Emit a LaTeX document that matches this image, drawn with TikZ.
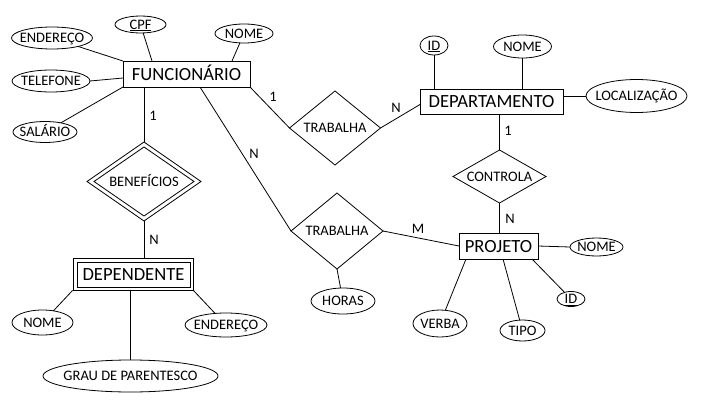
\documentclass[tikz,border=0pt]{standalone}
\usepackage{fontspec}
\setmainfont{Carlito}
\usetikzlibrary{shapes.geometric}
\begin{document}
\begin{tikzpicture}[x=1pt,y=-1pt,line width=0.8pt,
  small/.style={font=\fontsize{14.5}{16}\selectfont},
  big/.style={font=\fontsize{18.6}{20}\selectfont},
  attr/.style={ellipse,draw,inner sep=0pt,outer sep=0pt},
  ent/.style={rectangle,draw,inner sep=0pt,outer sep=0pt,big,text height=12pt,text depth=0pt},
  rel/.style={diamond,draw,inner sep=0pt,outer sep=0pt},
  txt/.style={small,inner sep=0pt,text height=9.3pt,text depth=0pt},
  card/.style={txt}]
\useasboundingbox (0,0) rectangle (701,412);
% entities
\node[ent,minimum width=127,minimum height=26] (func) at (186.5,74) {FUNCION\'ARIO};
\node[ent,minimum width=143,minimum height=25] (dep) at (491.5,101.5) {DEPARTAMENTO};
\node[ent,minimum width=79,minimum height=26] (proj) at (498.5,246) {PROJETO};
\node[rectangle,draw,minimum width=120,minimum height=32,inner sep=0pt] (dep2o) at (133,274) {};
\node[ent,minimum width=113,minimum height=25] (dep2) at (133.5,274.5) {DEPENDENTE};
% relationships
\node[rel,minimum width=91,minimum height=74,label={[txt]center:TRABALHA}] (trab1) at (335,128) {};
\node[rel,minimum width=92,minimum height=76,label={[txt]center:TRABALHA}] (trab2) at (337,231) {};
\node[rel,minimum width=93,minimum height=53,label={[txt]center:CONTROLA}] (contr) at (499.5,176.5) {};
\node[rel,minimum width=114,minimum height=79] (benefo) at (144,181.5) {};
\node[rel,minimum width=100,minimum height=69,label={[txt]center:BENEF\'ICIOS}] (benef) at (144,181.5) {};
% attributes
\node[attr,minimum width=81,minimum height=22,label={[txt]center:ENDERE\c{C}O}] (end1) at (52,38) {};
\node[attr,minimum width=51,minimum height=17,label={[txt]center:\underline{CPF}}] (cpf) at (140.5,24.5) {};
\node[attr,minimum width=58,minimum height=19,label={[txt]center:NOME}] (nome1) at (244,33.5) {};
\node[attr,minimum width=78,minimum height=22,label={[txt]center:TELEFONE}] (tel) at (51,81) {};
\node[attr,minimum width=64,minimum height=21,label={[txt]center:SAL\'ARIO}] (sal) at (45,132) {};
\node[attr,minimum width=28,minimum height=19,label={[txt]center:\underline{ID}}] (id1) at (434,45.5) {};
\node[attr,minimum width=58,minimum height=23,label={[txt]center:NOME}] (nome2) at (522.5,46.5) {};
\node[attr,minimum width=101,minimum height=33,label={[txt]center:LOCALIZA\c{C}\~AO}] (loc) at (636.5,96) {};
\node[attr,minimum width=64,minimum height=26,label={[txt]center:HORAS}] (horas) at (343,301) {};
\node[attr,minimum width=53,minimum height=18,label={[txt]center:NOME}] (nome3) at (596.5,247) {};
\node[attr,minimum width=28,minimum height=15,label={[txt]center:\underline{ID}}] (id2) at (571,299) {};
\node[attr,minimum width=45,minimum height=21,label={[txt]center:TIPO}] (tipo) at (522.5,330.5) {};
\node[attr,minimum width=54,minimum height=27,label={[txt]center:VERBA}] (verba) at (440,323.5) {};
\node[attr,minimum width=61,minimum height=25,label={[txt]center:NOME}] (nome4) at (42.5,322.5) {};
\node[attr,minimum width=82,minimum height=24,label={[txt]center:ENDERE\c{C}O}] (end2) at (226,325) {};
\node[attr,minimum width=175,minimum height=32,label={[txt]center:GRAU DE PARENTESCO}] (grau) at (130.5,376) {};
% connectors
\draw (end1) -- (func.north west);
\draw (cpf) -- ([xshift=29pt]func.north west);
\draw (nome1) -- ([xshift=109pt]func.north west);
\draw (tel.east) -- ([yshift=-17pt]func.north west);
\draw (sal) -- (func.south west);
\draw (benefo.north |- func.south) -- (benefo.north);
\draw ([xshift=77pt]func.south west) -- (trab2.west);
\draw (func.south east) -- (trab1.west);
\draw (trab1.east) -- ([yshift=-3pt]dep.west);
\draw (id1.south) -- (id1.south |- dep.north);
\draw (nome2.south) -- (nome2.south |- dep.north);
\draw (loc.west -| dep.east) -- (loc.west);
\draw (contr.north |- dep.south) -- (contr.north);
\draw (contr.south) -- (contr.south |- proj.north);
\draw (trab2.east) -- (proj.west);
\draw (trab2.south) -- (horas);
\draw (proj.east) -- (nome3.west);
\draw ([xshift=-6pt]proj.south east) -- (id2);
\draw ([xshift=44pt]proj.south west) -- (tipo);
\draw ([xshift=7pt]proj.south west) -- (verba);
\draw (benefo.south) -- (benefo.south |- dep2o.north);
\draw (dep2o.south west) -- (nome4);
\draw (dep2o.south east) -- (end2);
\draw (grau.north |- dep2o.south) -- (grau.north);
% cardinalities
\node[card] (c1) at (153,116) {1};
\node[card] (c2) at (254,154) {N};
\node[card] (c3) at (273,97) {1};
\node[card] (c4) at (396,108) {N};
\node[card] (c5) at (508,131) {1};
\node[card] (c6) at (510,219) {N};
\node[card] (c7) at (418,229) {M};
\node[card] (c8) at (154,240) {N};
\end{tikzpicture}
\end{document}
